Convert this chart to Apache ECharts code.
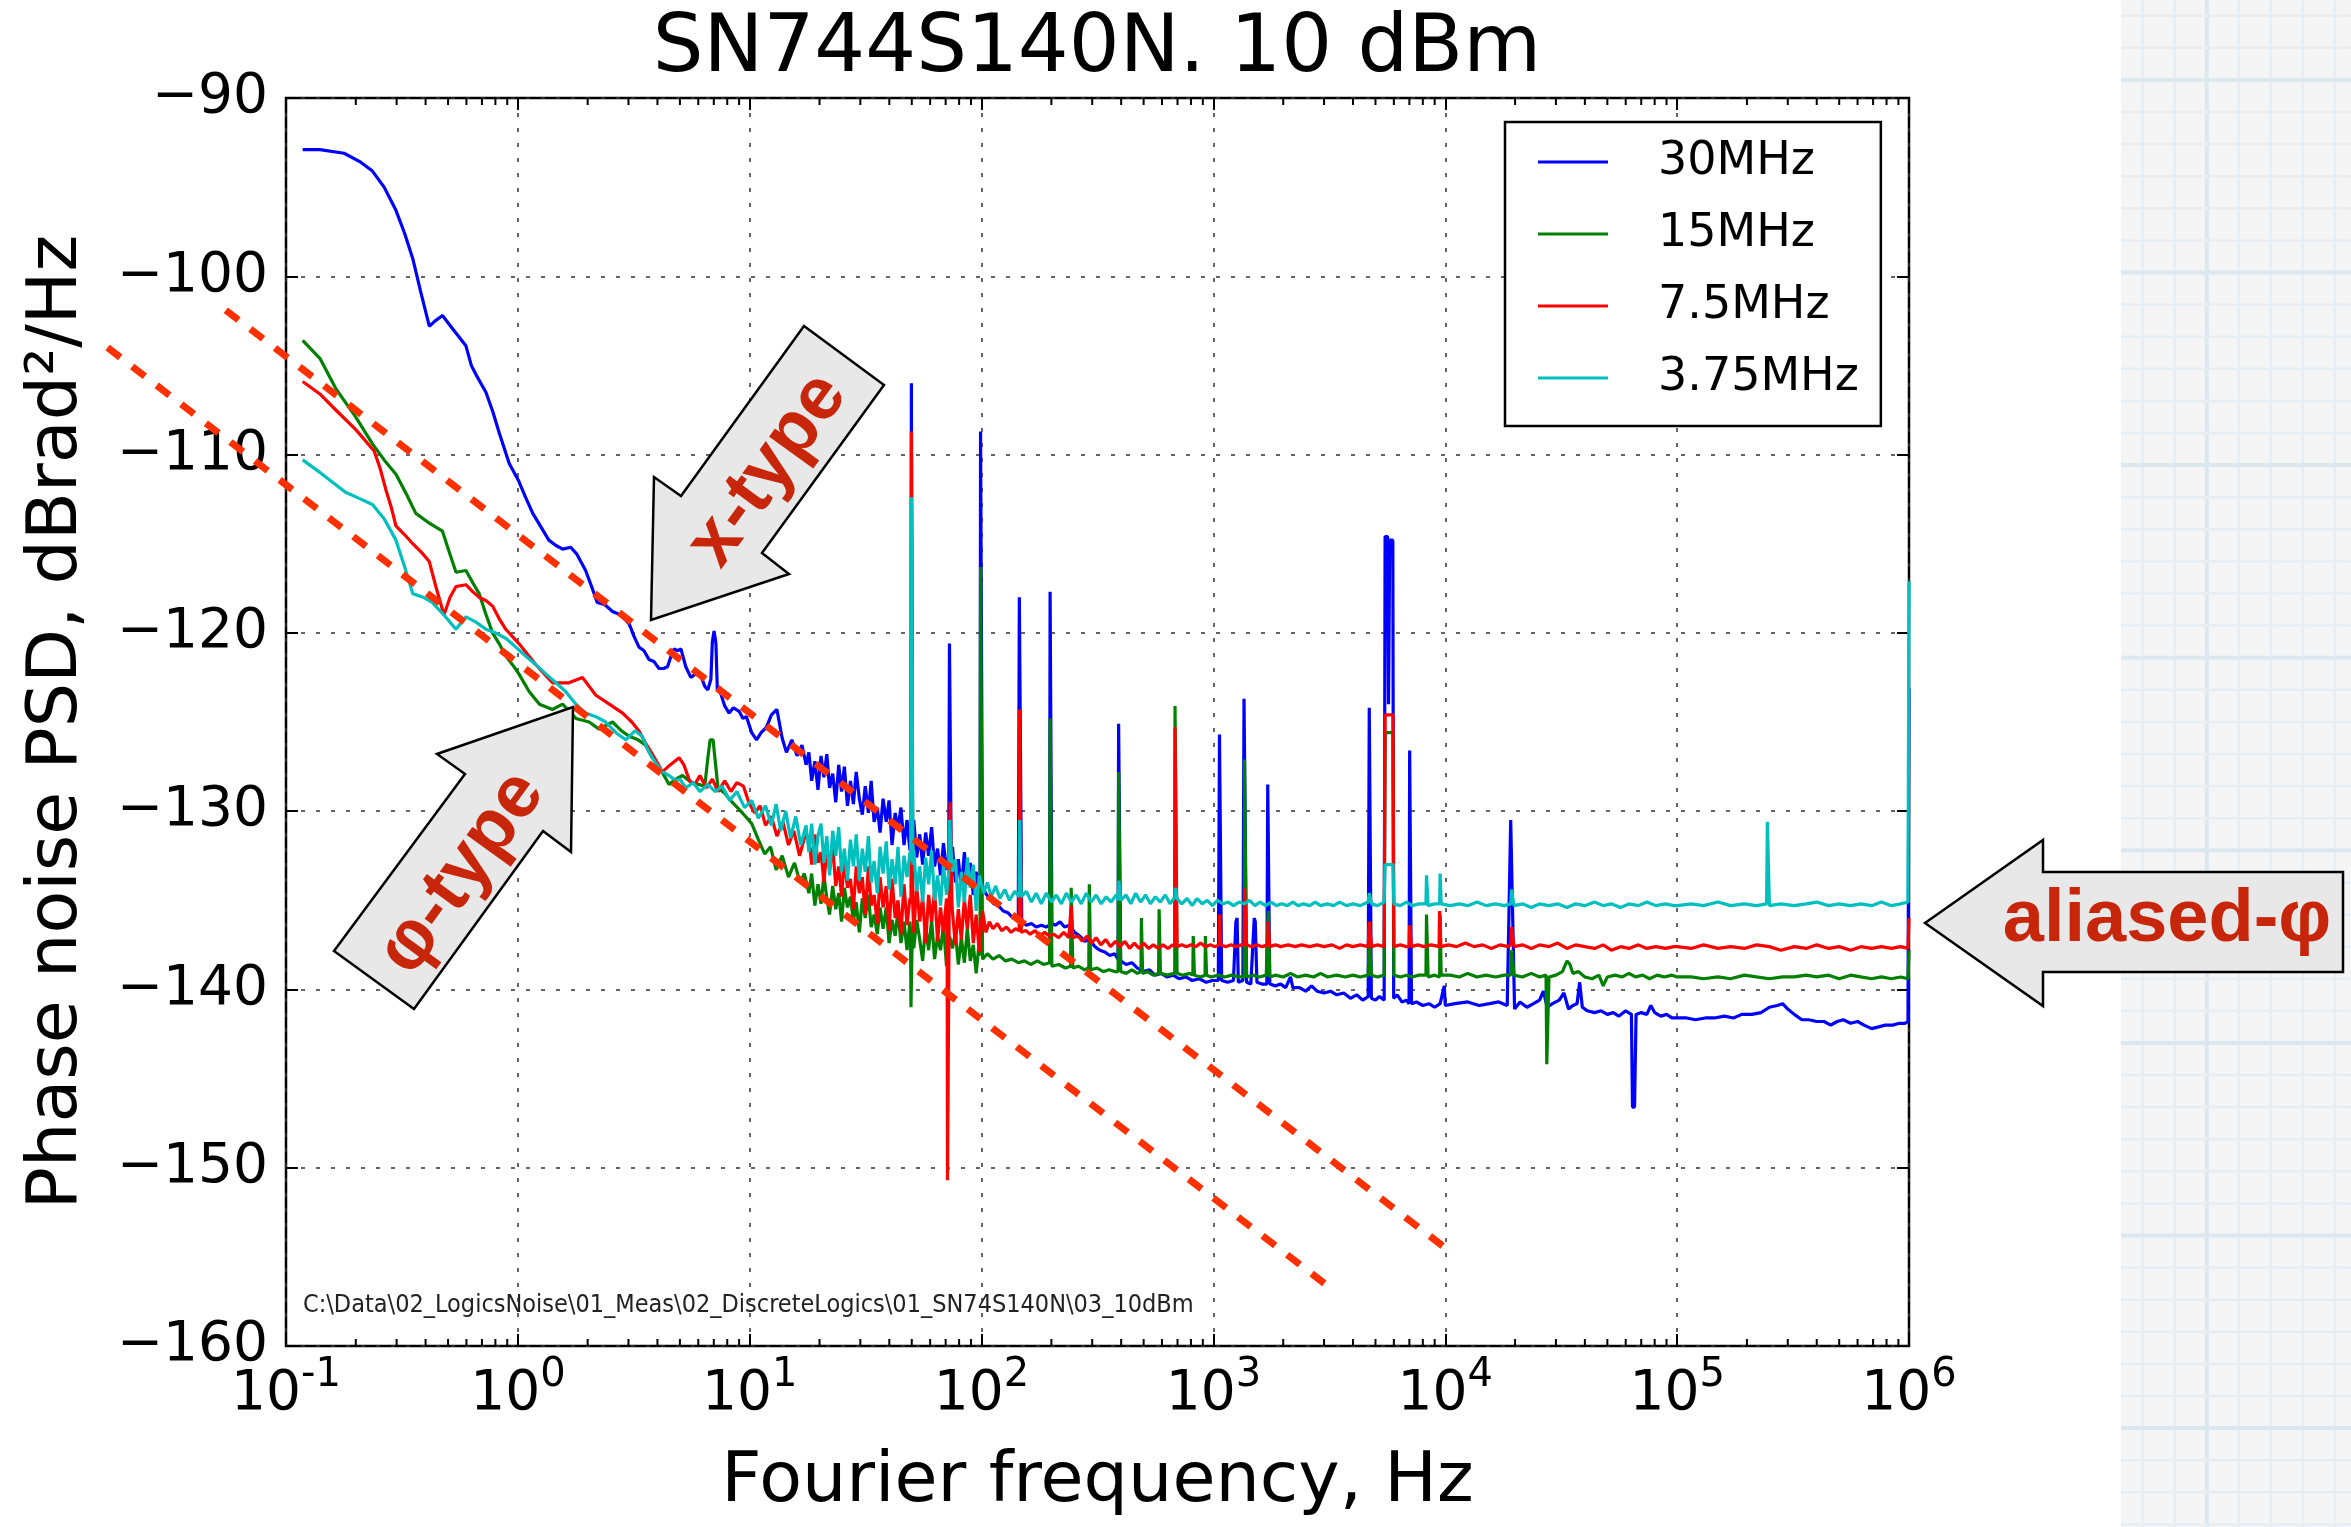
<!DOCTYPE html>
<html>
<head>
<meta charset="utf-8">
<script src="https://cdn.jsdelivr.net/npm/echarts@6/dist/echarts.min.js"></script>
<style>
html,body{margin:0;padding:0;background:#ffffff;}
#chart{width:2351px;height:1527px;}
</style>
</head>
<body>
<div id="chart"></div>
<script>
// ---------------- DATA ----------------
const seriesNames = ['30MHz', '15MHz', '7.5MHz', '3.75MHz'];
const seriesColors = ['#0000ff', '#008000', '#ff0000', '#00bfbf'];

// [Fourier frequency (Hz), PSD (dBrad^2/Hz)]
const psd30MHz = [
[0.118,-92.9],[0.14,-92.9],[0.178,-93.1],[0.21,-93.6],[0.236,-94.1],[0.265,-95.0],[0.298,-96.3],[0.325,-97.6],[0.352,-99.0],[0.38,-100.8],
[0.415,-102.8],[0.44,-102.5],[0.473,-102.2],[0.52,-102.9],[0.597,-103.9],[0.63,-105.0],[0.659,-105.5],[0.728,-106.5],[0.78,-107.6],[0.832,-108.8],
[0.918,-110.5],[1.01,-111.5],[1.08,-112.4],[1.16,-113.3],[1.25,-114.0],[1.36,-114.8],[1.46,-115.1],[1.56,-115.3],[1.69,-115.2],[1.8,-115.6],
[1.96,-116.5],[2.08,-117.4],[2.2,-118.3],[2.36,-118.4],[2.56,-118.8],[2.78,-119.0],[3.02,-119.5],[3.17,-120.2],[3.33,-120.8],[3.5,-121.0],
[3.68,-121.5],[3.86,-121.6],[4.06,-122.0],[4.25,-122.0],[4.42,-121.9],[4.58,-121.3],[4.72,-120.9],[4.9,-121.0],[5.05,-120.9],[5.3,-121.9],
[5.57,-122.5],[5.85,-122.3],[6.15,-122.4],[6.4,-123.0],[6.6,-123.2],[6.8,-122.6],[6.9,-120.5],[7.02,-119.9],[7.15,-120.6],[7.25,-123.2],
[7.5,-123.4],[7.8,-124.1],[8.15,-124.5],[8.5,-124.2],[9.0,-124.4],[9.35,-124.8],[9.68,-124.7],[10.2,-125.6],[10.7,-126.0],[11.2,-125.6],
[11.8,-125.3],[12.4,-124.6],[13.1,-124.3],[13.8,-125.9],[14.4,-126.7],[15.2,-126.0],[16.0,-126.9],[16.8,-126.3],[17.5,-127.4],
[18,-126.7],[18.5,-128.3],[19.1,-127.2],[19.7,-128.8],[20.3,-126.9],[20.9,-128.1],[21.5,-126.8],[22.1,-128.7],[22.8,-127.9],[23.5,-129.5],
[24.2,-127.4],[24.9,-128.9],[25.6,-127.5],[26.4,-129.7],[27.2,-128.3],[28.0,-129.6],[28.8,-127.8],[29.7,-129.3],[30.6,-130.2],[31.5,-128.6],
[32.5,-130.1],[33.4,-128.3],[34.4,-130.6],[35.5,-129.8],[36.5,-131.2],[37.6,-129.3],[38.8,-130.6],[39.9,-129.4],[41.1,-131.9],[42.4,-130.1],
[43.6,-131.0],[44.9,-129.8],[46.3,-131.9],[47.7,-130.5],[49.1,-132.2],[49.6,-131.5],[49.8,-106.0],[50.2,-106.0],[50.4,-131.6],[51.0,-130.5],
[52.5,-132.6],[54.1,-131.3],[55.7,-133.0],[57.4,-131.2],[59.1,-132.5],[60.9,-130.9],[62.7,-133.1],[64.6,-132.1],[66.5,-133.6],[68.5,-131.8],
[70.6,-133.3],[72.2,-132.6],[72.7,-120.6],[73.5,-120.6],[74.0,-132.9],[74.9,-132.0],[77.1,-134.0],[79.4,-132.7],[81.8,-134.4],[84.3,-132.3],
[86.8,-134.1],[89.4,-132.9],[92.1,-134.7],[94.8,-133.4],[97.7,-134.6],[98.5,-134.0],[99.0,-108.7],[100.4,-108.7],[101.0,-134.2],[104,-134.6],
[108,-134.9],[113,-135.2],[118,-135.3],[124,-135.6],[130,-135.7],[137,-136.0],[144,-136.1],[145.5,-118.0],[147.5,-118.0],[149,-136.2],
[156,-136.4],[164,-136.3],[172,-136.5],[181,-136.4],[190,-136.5],[196.5,-136.4],[197.5,-117.7],[200,-117.7],[201,-136.3],[208,-136.4],
[218,-136.2],[228,-136.5],[240,-136.4],[252,-136.8],[265,-137.0],[279,-137.3],[293,-137.2],[308,-137.6],[324,-137.8],[340,-137.9],
[357,-138.1],[375,-138.0],[388,-138.3],[390,-125.1],[396,-125.1],[398,-138.4],[420,-138.6],[445,-138.5],[470,-138.8],[500,-139.0],
[530,-138.9],[560,-139.2],[595,-139.1],[630,-139.3],[670,-139.2],[710,-139.4],[760,-139.3],[810,-139.5],[870,-139.4],[930,-139.6],
[990,-139.5],[1050,-139.5],[1062,-125.7],[1072,-125.7],[1085,-139.5],[1150,-139.6],[1220,-139.5],[1250,-136.2],[1265,-136.0],[1280,-139.6],
[1340,-139.5],[1355,-123.7],[1375,-123.7],[1390,-139.6],[1450,-139.7],[1500,-136.0],[1515,-136.2],[1540,-139.6],[1620,-139.7],[1700,-139.7],
[1715,-128.5],[1735,-128.5],[1750,-139.7],[1850,-139.8],[1950,-139.7],[2050,-139.9],[2150,-139.3],[2200,-139.9],[2350,-139.9],[2500,-140.1],
[2650,-139.8],[2800,-140.1],[3000,-140.2],[3200,-140.1],[3400,-140.3],[3650,-140.2],[3900,-140.5],[4150,-140.3],[4400,-140.6],[4650,-140.4],
[4700,-124.2],[4760,-124.2],[4800,-140.5],[5000,-140.6],[5200,-140.4],[5450,-140.6],[5500,-114.6],[5640,-114.6],[5690,-124.0],[5760,-114.8],
[5940,-114.8],[5990,-140.5],[6200,-140.3],[6500,-140.7],[6800,-140.6],[6980,-140.8],[7020,-126.6],[7100,-126.6],[7150,-140.8],[7500,-140.7],
[8000,-140.9],[8500,-140.8],[9000,-141.0],[9500,-140.8],[9900,-139.8],[10000,-140.9],[11000,-140.8],[12500,-140.7],[14000,-140.9],[15500,-140.8],
[17000,-140.7],[18500,-140.9],[19150,-130.5],[19500,-130.5],[19900,-141.1],[21000,-140.7],[22500,-141.0],[24000,-140.8],[25500,-140.6],[26500,-140.1],
[27500,-141.0],[29000,-140.8],[31000,-140.6],[32500,-140.2],[34000,-141.1],[35500,-140.9],[37000,-140.8],[38000,-139.6],[39000,-141.0],[41000,-141.2],
[44000,-141.3],[47000,-141.2],[50000,-141.4],[53000,-141.3],[56000,-141.5],[60000,-141.2],[63500,-141.4],[64200,-146.6],[65500,-146.6],[66500,-141.4],
[70000,-141.3],[74000,-141.4],[77000,-140.9],[80000,-141.3],[85000,-141.5],[90000,-141.4],[95000,-141.6],[100000,-141.6],[110000,-141.6],[120000,-141.7],
[132000,-141.6],[145000,-141.6],[160000,-141.5],[175000,-141.6],[190000,-141.4],[210000,-141.4],[230000,-141.3],[250000,-141.0],[270000,-140.9],[285000,-140.8],
[300000,-141.1],[320000,-141.4],[345000,-141.7],[370000,-141.7],[400000,-141.8],[430000,-141.8],[460000,-142.0],[490000,-141.8],[520000,-141.7],[560000,-141.9],
[600000,-141.8],[640000,-142.0],[690000,-142.2],[740000,-142.1],[790000,-142.0],[850000,-142.0],[910000,-141.9],[960000,-141.9],[990000,-141.8],[1000000,-123.1]
];

const psd15MHz = [
[0.118,-103.6],[0.14,-104.6],[0.164,-106.3],[0.2,-107.9],[0.236,-109.4],[0.265,-110.3],[0.298,-111.1],[0.33,-112.2],[0.363,-113.3],[0.41,-113.8],
[0.473,-114.3],[0.51,-115.6],[0.541,-116.6],[0.597,-116.5],[0.64,-117.2],[0.681,-117.8],[0.73,-119.0],[0.778,-120.0],[0.83,-120.6],[0.887,-121.3],
[0.95,-121.8],[1.01,-122.3],[1.12,-123.3],[1.24,-124.0],[1.41,-124.3],[1.56,-124.0],[1.78,-124.8],[2.03,-125.0],[2.24,-125.4],[2.56,-125.0],
[2.8,-125.5],[3.02,-125.8],[3.3,-126.0],[3.56,-126.3],[3.8,-127.0],[4.06,-127.5],[4.49,-128.5],[4.8,-128.2],[5.13,-128.0],[5.6,-128.4],
[6.0,-128.5],[6.4,-128.6],[6.6,-127.0],[6.75,-126.0],[6.95,-126.0],[7.1,-127.2],[7.3,-128.7],[7.8,-129.0],[8.4,-129.5],[9.0,-129.9],
[9.6,-130.3],[10.2,-130.7],[10.9,-131.6],[11.6,-132.4],[12.3,-132.0],[13.0,-133.3],[13.8,-132.5],[14.7,-133.7],[15.6,-132.9],[16.5,-134.0],
[17.2,-133.5],[18,-134.6],[18.5,-133.5],[19.1,-135.3],[19.7,-134.1],[20.3,-135.2],[20.9,-133.6],[21.5,-134.9],[22.1,-135.8],[22.8,-134.2],
[23.5,-135.5],[24.2,-134.6],[24.9,-136.2],[25.6,-134.3],[26.4,-135.4],[27.2,-134.8],[28.0,-136.2],[28.8,-135.1],[29.7,-136.8],[30.6,-134.9],
[31.5,-136.0],[32.5,-134.7],[33.4,-136.5],[34.4,-135.8],[35.5,-136.9],[36.5,-135.4],[37.6,-136.6],[38.8,-135.4],[39.9,-137.4],[41.1,-136.1],
[42.4,-137.0],[43.6,-135.6],[44.9,-137.4],[46.3,-136.2],[47.7,-137.8],[49.1,-136.2],[49.4,-136.8],[49.6,-141.0],[50.0,-141.0],[50.3,-136.5],
[51.0,-137.7],[52.5,-136.1],[54.1,-137.2],[55.7,-138.4],[57.4,-136.4],[59.1,-137.8],[60.9,-136.1],[62.7,-138.3],[64.6,-137.0],[66.5,-137.8],
[68.5,-136.4],[70.6,-138.7],[72.7,-137.0],[74.9,-137.7],[77.1,-136.8],[79.4,-138.6],[81.8,-137.1],[84.3,-138.5],[86.8,-136.6],[89.4,-138.4],
[92.1,-137.5],[94.8,-139.1],[97.7,-137.3],[98.5,-138.1],
[99.0,-116.3],[100.4,-116.3],[101.0,-138.3],[106,-138.0],[112,-138.3],[119,-138.1],[127,-138.4],[135,-138.3],[144,-138.5],[153,-138.4],
[163,-138.6],[174,-138.4],[185,-138.6],[196.5,-138.5],[197.5,-124.8],[200,-124.8],[201,-138.7],[215,-138.6],[230,-138.8],[242,-138.7],
[243.5,-134.3],[246,-134.3],[247.5,-138.8],[262,-138.7],[278,-138.9],[290,-138.8],[291.5,-134.1],[294,-134.1],[295.5,-138.9],[315,-138.8],
[335,-139.0],[355,-138.9],[375,-139.0],[388,-139.0],[390,-127.8],[396,-127.8],[398,-139.0],[420,-139.1],[445,-138.9],[470,-139.1],
[487,-139.0],[489,-136.0],[493,-136.0],[495,-139.1],[520,-139.0],[550,-139.2],[580,-139.1],[583,-135.5],[588,-135.5],[591,-139.1],
[630,-139.2],[681,-139.1],[683,-124.1],[695,-124.1],[697,-139.1],[740,-139.2],[790,-139.1],[815,-139.2],[818,-137.0],[824,-137.0],
[828,-139.2],[880,-139.3],[920,-139.2],[923,-137.0],[930,-137.0],[934,-139.2],[980,-139.3],[1050,-139.2],[1120,-139.3],[1200,-139.2],
[1290,-139.3],[1358,-139.3],[1362,-127.1],[1385,-127.1],[1390,-139.3],[1480,-139.2],[1580,-139.3],[1690,-139.2],[1720,-139.3],[1725,-135.6],
[1745,-135.6],[1750,-139.3],[1850,-139.2],[2000,-139.3],[2150,-139.1],[2300,-139.3],[2500,-139.2],[2700,-139.3],[2900,-139.1],[3100,-139.3],
[3400,-139.2],[3700,-139.3],[4000,-139.2],[4300,-139.3],[4650,-139.2],[4700,-137.0],[4760,-137.0],[4810,-139.2],[5100,-139.3],[5450,-139.2],
[5500,-125.6],[5950,-125.6],[6000,-139.2],[6400,-139.3],[6800,-139.2],[7200,-139.3],[7700,-139.2],[8250,-139.2],[8300,-135.8],[8380,-135.8],
[8430,-139.3],[9000,-139.2],[9450,-139.3],[9500,-135.8],[9560,-135.8],[9600,-139.2],[10500,-139.2],[11500,-139.3],[12500,-139.1],[13700,-139.3],
[15000,-139.2],[16500,-139.3],[18000,-139.2],[19150,-139.2],[19300,-137.8],[19650,-137.8],[19800,-139.2],[21500,-139.3],[23500,-139.1],[25500,-139.3],
[27200,-139.2],[27400,-144.2],[27800,-144.2],[28000,-139.3],[30000,-139.2],[32000,-139.0],[33500,-138.4],[34500,-138.6],[35500,-139.1],[37500,-139.0],
[40000,-139.3],[43000,-139.4],[46000,-139.2],[48000,-139.8],[50000,-139.3],[54000,-139.2],[58000,-139.3],[62000,-139.1],[66000,-139.3],[71000,-139.2],
[76000,-139.4],[82000,-139.2],[88000,-139.3],[95000,-139.2],[100000,-139.3],[115000,-139.3],[130000,-139.4],[150000,-139.3],[170000,-139.4],[195000,-139.2],
[220000,-139.3],[250000,-139.4],[285000,-139.3],[320000,-139.3],[360000,-139.2],[400000,-139.3],[450000,-139.2],[500000,-139.4],[560000,-139.2],[620000,-139.3],
[690000,-139.4],[760000,-139.3],[840000,-139.4],[920000,-139.3],[990000,-139.4],[1000000,-137.8]
];

const psd7_5MHz = [
[0.118,-105.9],[0.14,-106.6],[0.164,-107.5],[0.2,-108.6],[0.24,-109.8],[0.255,-110.8],[0.27,-112.0],[0.285,-113.0],[0.298,-114.0],[0.325,-114.5],
[0.352,-115.0],[0.385,-115.5],[0.415,-116.0],[0.445,-117.5],[0.48,-119.0],[0.51,-118.0],[0.541,-117.4],[0.597,-117.3],[0.64,-117.7],[0.681,-118.0],
[0.73,-118.2],[0.778,-118.5],[0.83,-119.2],[0.887,-119.8],[1.01,-120.6],[1.1,-121.2],[1.2,-121.8],[1.3,-122.3],[1.41,-122.8],[1.66,-122.8],
[1.9,-122.5],[2.03,-123.0],[2.17,-123.5],[2.48,-124.0],[2.83,-124.5],[3.1,-125.0],[3.33,-125.5],[3.56,-126.2],[3.8,-126.8],[4.0,-127.3],
[4.2,-127.8],[4.45,-127.5],[4.65,-127.3],[4.96,-127.0],[5.2,-127.4],[5.5,-128.3],[5.8,-128.5],[6.1,-128.0],[6.5,-128.7],[6.9,-128.2],
[7.3,-128.9],[7.8,-128.3],[8.3,-128.9],[8.8,-128.4],[9.4,-128.6],[9.9,-129.5],[10.5,-130.1],[11.1,-129.7],[11.7,-130.8],[12.4,-130.3],
[13.1,-131.4],[13.9,-130.6],[14.7,-131.9],[15.5,-131.1],[16.4,-132.5],[17.4,-131.3],
[18,-131.5],[18.5,-133.0],[19.1,-131.3],[19.7,-132.9],[20.3,-132.3],[20.9,-134.0],[21.5,-132.1],[22.1,-133.3],[22.8,-132.0],[23.5,-134.2],
[24.2,-133.1],[24.9,-134.8],[25.6,-132.7],[26.4,-134.3],[27.2,-133.8],[28.0,-135.5],[28.8,-133.1],[29.7,-134.6],[30.6,-133.7],[31.5,-135.8],
[32.5,-133.1],[33.4,-135.3],[34.4,-134.7],[35.5,-136.3],[36.5,-133.7],[37.6,-135.4],[38.8,-134.2],[39.9,-136.7],[41.1,-133.8],[42.4,-136.0],
[43.6,-135.0],[44.9,-136.9],[46.3,-134.1],[47.7,-136.4],[49.1,-134.9],[49.6,-135.2],[49.8,-108.7],[50.2,-108.7],[50.5,-135.3],[51.0,-136.8],
[52.5,-134.2],[54.1,-136.2],[55.7,-134.8],[57.4,-137.4],[59.1,-134.7],[60.9,-136.2],[62.7,-134.4],[64.6,-137.3],[66.5,-135.4],[68.5,-136.8],
[70.6,-134.9],[71.0,-135.5],[71.3,-150.7],[72.1,-150.7],[72.5,-135.6],[73.2,-129.5],[74.2,-129.5],[74.6,-135.4],[77.1,-137.5],[79.4,-135.5],
[81.8,-137.2],[84.3,-134.9],[86.8,-136.6],[89.4,-134.7],[92.1,-137.4],[94.8,-135.8],[97.7,-137.9],
[101,-135.6],[104.5,-136.8],[108,-136.2],[112,-136.6],[117,-136.3],[122,-136.7],[128,-136.5],[134,-136.8],[140,-136.6],[145.3,-136.7],
[145.8,-124.3],[147.8,-124.3],[148.3,-136.8],[155,-136.7],[162,-136.9],[170,-136.7],[178,-137.0],[187,-136.8],[196,-137.0],[205,-136.9],
[215,-137.1],[226,-136.8],[238,-137.1],[242,-137.0],[243.5,-135.3],[246,-135.3],[247.5,-137.1],[260,-137.0],[272,-137.3],[285,-137.0],
[298,-137.4],[312,-137.1],[327,-137.5],[343,-137.2],[360,-137.6],[378,-137.3],[395,-137.6],[415,-137.3],[435,-137.7],[456,-137.4],
[478,-137.7],[500,-137.4],[525,-137.7],[550,-137.5],[578,-137.7],[606,-137.5],[636,-137.7],[667,-137.5],[681,-137.6],[683,-125.3],
[695,-125.3],[697,-137.6],[730,-137.5],[765,-137.6],[800,-137.5],[840,-137.6],[880,-137.4],[925,-137.6],[970,-137.5],[1015,-137.6],
[1060,-137.5],[1062,-135.8],[1072,-135.8],[1075,-137.5],[1130,-137.6],[1190,-137.5],[1250,-137.6],[1320,-137.5],[1358,-137.5],[1362,-134.3],
[1385,-134.3],[1390,-137.5],[1460,-137.6],[1540,-137.5],[1620,-137.6],[1715,-137.5],[1720,-136.2],[1745,-136.2],[1750,-137.6],[1850,-137.5],
[1950,-137.6],[2100,-137.5],[2250,-137.6],[2400,-137.5],[2600,-137.6],[2800,-137.5],[3000,-137.6],[3250,-137.5],[3500,-137.7],[3750,-137.5],
[4000,-137.6],[4300,-137.5],[4650,-137.6],[4700,-136.2],[4760,-136.2],[4810,-137.6],[5100,-137.5],[5450,-137.6],[5500,-124.6],[5950,-124.6],
[6000,-137.6],[6400,-137.5],[6800,-137.6],[6980,-137.6],[7020,-136.4],[7100,-136.4],[7150,-137.6],[7600,-137.5],[8100,-137.6],[8700,-137.5],
[9400,-137.6],[9450,-135.6],[9520,-135.6],[9570,-137.6],[10300,-137.5],[11200,-137.6],[12200,-137.4],[13300,-137.6],[14500,-137.5],[15800,-137.7],
[17200,-137.5],[18700,-137.6],[19150,-137.5],[19300,-136.5],[19650,-136.5],[19800,-137.6],[21500,-137.5],[23500,-137.7],[25500,-137.5],[28000,-137.6],
[30500,-137.4],[33500,-137.7],[36500,-137.5],[40000,-137.6],[44000,-137.7],[48000,-137.5],[52000,-137.8],[57000,-137.6],[62000,-137.7],[68000,-137.5],
[74000,-137.7],[81000,-137.6],[89000,-137.7],[97000,-137.6],[100000,-137.6],[115000,-137.7],[130000,-137.5],[150000,-137.7],[170000,-137.6],[195000,-137.7],
[220000,-137.5],[250000,-137.6],[280000,-137.8],[320000,-137.6],[360000,-137.7],[400000,-137.5],[450000,-137.7],[500000,-137.6],[560000,-137.8],[620000,-137.6],
[690000,-137.7],[760000,-137.6],[840000,-137.7],[920000,-137.6],[990000,-137.7],[1000000,-136.0]
];

const psd3_75MHz = [
[0.118,-110.3],[0.14,-111.0],[0.18,-112.1],[0.21,-112.5],[0.236,-112.8],[0.265,-113.6],[0.298,-114.8],[0.325,-116.3],[0.352,-117.8],[0.39,-118.0],
[0.428,-118.3],[0.48,-119.0],[0.541,-119.8],[0.597,-119.1],[0.66,-119.4],[0.728,-119.8],[0.8,-120.0],[0.887,-120.3],[0.98,-120.8],[1.08,-121.3],
[1.2,-121.8],[1.32,-122.3],[1.46,-122.8],[1.61,-123.3],[1.78,-124.0],[1.96,-124.5],[2.17,-124.7],[2.39,-125.0],[2.65,-125.6],[2.92,-126.0],
[3.2,-125.5],[3.44,-125.8],[3.65,-126.6],[3.93,-127.3],[4.2,-127.8],[4.49,-128.0],[4.8,-128.3],[5.0,-128.2],[5.3,-128.7],[5.7,-128.4],
[6.1,-128.9],[6.6,-128.5],[7.1,-128.9],[7.6,-128.6],[8.2,-129.4],[8.8,-128.9],[9.5,-129.8],[10.2,-129.4],[10.9,-130.4],[11.7,-129.7],
[12.4,-130.8],[13.0,-129.6],[13.6,-131.1],[14.3,-130.0],[15.0,-131.5],[15.8,-130.3],[16.6,-131.9],[17.5,-130.8],
[18,-132.3],[18.5,-130.7],[19.1,-133.0],[19.7,-131.4],[20.3,-130.7],[20.9,-132.9],[21.5,-131.4],[22.1,-133.6],[22.8,-131.1],[23.5,-132.5],
[24.2,-130.9],[24.9,-133.4],[25.6,-132.1],[26.4,-133.9],[27.2,-131.6],[28.0,-133.1],[28.8,-131.3],[29.7,-133.9],[30.6,-132.1],[31.5,-133.4],
[32.5,-131.4],[33.4,-134.0],[34.4,-132.8],[35.5,-134.6],[36.5,-132.0],[37.6,-133.5],[38.8,-131.7],[39.9,-134.4],[41.1,-132.7],[42.4,-134.1],
[43.6,-132.0],[44.9,-134.8],[46.3,-132.5],[47.7,-133.7],[49.1,-132.3],[49.4,-132.8],[49.8,-112.4],[50.2,-112.4],[50.6,-133.0],[51.0,-132.2],
[52.5,-134.5],[54.1,-133.1],[55.7,-135.1],[57.4,-132.6],[59.1,-134.1],[60.9,-132.2],[62.7,-135.0],[64.6,-133.6],[66.5,-135.3],[68.5,-133.0],
[70.6,-134.7],[72.0,-133.6],[72.8,-130.5],[74.0,-130.5],[74.8,-133.4],[77.1,-132.7],[79.4,-135.4],[81.8,-133.4],[84.3,-135.1],[86.8,-132.6],
[89.4,-134.3],[92.1,-133.0],[94.8,-135.6],[97.7,-133.6],
[102,-134.6],[106,-134.0],[110,-134.8],[115,-134.2],[120,-134.9],[126,-134.4],[132,-135.0],[139,-134.5],[145.3,-134.8],[145.8,-130.5],[147.8,-130.5],
[148.3,-134.8],[156,-134.5],[164,-135.1],[172,-134.6],[181,-135.2],[190,-134.6],[200,-135.1],[210,-134.7],[221,-135.2],[232,-134.6],
[244,-135.1],[256,-134.7],[269,-135.2],[283,-134.6],[297,-135.1],[312,-134.7],[328,-135.2],[345,-134.8],[362,-135.1],[380,-134.7],
[389,-135.0],[391,-133.9],[396,-133.9],[398,-135.0],[420,-134.7],[440,-135.2],[462,-134.6],[485,-135.1],[510,-134.7],[535,-135.2],
[562,-134.8],[590,-135.1],[620,-134.7],[650,-135.2],[683,-134.8],[686,-134.3],[694,-134.3],[697,-134.9],[730,-135.2],[770,-134.9],
[810,-135.3],[850,-134.9],[895,-135.2],[940,-135.0],[990,-135.3],[1040,-135.0],[1100,-135.2],[1160,-135.1],[1220,-135.3],[1290,-135.1],
[1360,-135.2],[1430,-135.0],[1510,-135.3],[1590,-135.1],[1680,-135.3],[1770,-135.1],[1870,-135.3],[1970,-135.2],[2080,-135.3],[2200,-135.1],
[2320,-135.3],[2450,-135.2],[2600,-135.3],[2750,-135.1],[2900,-135.3],[3100,-135.2],[3300,-135.3],[3500,-135.1],[3750,-135.3],[4000,-135.2],
[4300,-135.3],[4650,-135.1],[4700,-134.6],[4760,-134.6],[4810,-135.2],[5100,-135.3],[5450,-135.1],[5500,-133.0],[5950,-133.0],[6000,-135.2],
[6400,-135.3],[6800,-135.1],[7200,-135.3],[7700,-135.2],[8250,-135.2],[8300,-133.6],[8380,-133.6],[8430,-135.3],[9000,-135.2],[9450,-135.2],
[9500,-133.5],[9560,-133.5],[9600,-135.2],[10500,-135.3],[11500,-135.2],[12500,-135.3],[13700,-135.1],[15000,-135.3],[16500,-135.2],[18000,-135.3],
[19150,-135.2],[19300,-134.4],[19650,-134.4],[19800,-135.3],[21500,-135.2],[23500,-135.4],[25500,-135.2],[28000,-135.3],[30500,-135.2],[33500,-135.4],
[36500,-135.2],[40000,-135.3],[44000,-135.1],[48000,-135.3],[52000,-135.2],[57000,-135.4],[62000,-135.2],[68000,-135.3],[74000,-135.1],[81000,-135.3],
[89000,-135.2],[97000,-135.3],[100000,-135.3],[115000,-135.2],[130000,-135.3],[150000,-135.1],[170000,-135.3],[195000,-135.2],[220000,-135.3],[243000,-135.2],
[245000,-130.6],[248000,-130.6],[250000,-135.3],[280000,-135.2],[320000,-135.3],[360000,-135.2],[400000,-135.1],[450000,-135.3],[500000,-135.2],[560000,-135.3],
[620000,-135.2],[690000,-135.3],[760000,-135.1],[840000,-135.3],[920000,-135.2],[990000,-135.1],[1000000,-117.1]
];

// 1/f (-10 dB/decade) guide lines: [frequency, level] end points
const xTypeSlope = [[0.055, -101.9], [10000, -154.5]];
const phiTypeSlope = [[0.017, -104.0], [3160, -156.7]];

// axis ticks
const yTickValues = [-160, -150, -140, -130, -120, -110, -100, -90];
const xDecadeExponents = [-1, 0, 1, 2, 3, 4, 5, 6];
const minorMantissas = [2, 3, 4, 5, 6, 7, 8, 9];

// texts
const titleText = 'SN744S140N. 10 dBm';
const xAxisTitle = 'Fourier frequency, Hz';
const yAxisTitle = 'Phase noise PSD, dBrad\u00B2/Hz';
const pathText = 'C:\\Data\\02_LogicsNoise\\01_Meas\\02_DiscreteLogics\\01_SN74S140N\\03_10dBm';

// ---------------- CHART ----------------
const FONT = 'DejaVu Sans';
const minorTicks = [];
xDecadeExponents.slice(0, -1).forEach(e => minorMantissas.forEach(m => minorTicks.push([m * Math.pow(10, e), -125])));

const chart = echarts.init(document.getElementById('chart'), null, {renderer: 'canvas', width: 2351, height: 1527});

const lineSeries = [psd30MHz, psd15MHz, psd7_5MHz, psd3_75MHz].map((d, i) => ({
  name: seriesNames[i], type: 'line', data: d, symbol: 'none', showSymbol: false,
  lineStyle: {color: seriesColors[i], width: 3.2}, itemStyle: {color: seriesColors[i]},
  emphasis: {disabled: true}, z: 2, xAxisIndex: 0, yAxisIndex: 0
}));

// dashed guide lines: positions come from the axis scale (extrapolated in log space beyond the axis range)
function makeSlopeSeries(points, name) {
  return {
    type: 'custom', name: name, data: [points[0]], silent: true, clip: false, z: 3,
    encode: {x: 0, y: 1},
    renderItem: function (params, api) {
      const a = api.coord([1, -100]);
      const b = api.coord([1000, -100]);
      const pxPerDecade = (b[0] - a[0]) / 3;
      const pts = points.map(p => [a[0] + Math.log10(p[0]) * pxPerDecade, api.coord([1, p[1]])[1]]);
      return {type: 'polyline', shape: {points: pts},
        style: {stroke: '#ff3000', lineWidth: 7, lineDash: [16, 15], fill: null, lineCap: 'butt'}};
    }
  };
}

const minorTickSeries = {
  type: 'custom', data: minorTicks, silent: true, z: 4, clip: false,
  encode: {x: 0, y: 1},
  renderItem: function (params, api) {
    const b = api.coord([api.value(0), -160]);
    const t = api.coord([api.value(0), -90]);
    return {type: 'group', children: [
      {type: 'line', shape: {x1: b[0], y1: b[1], x2: b[0], y2: b[1] - 7}, style: {stroke: '#000', lineWidth: 2}},
      {type: 'line', shape: {x1: t[0], y1: t[1], x2: t[0], y2: t[1] + 7}, style: {stroke: '#000', lineWidth: 2}}
    ]};
  }
};

// graphic annotations
const arrowStyle = {fill: '#e8e8e8', stroke: '#000', lineWidth: 2.5};
const annoFont = 'bold 74px "Liberation Sans", Arial, sans-serif';
const annoColor = '#c8260a';
const graphics = [];
graphics.push({type: 'rect', shape: {x: 2121, y: 0, width: 230, height: 1527}, style: {fill: '#f5f5f5'}, z: -10, silent: true});
for (let k = 0; k < 7; k++) {
  const x = 2142.7 + 32.05 * k;
  graphics.push({type: 'line', shape: {x1: x, y1: 0, x2: x, y2: 1527}, style: {stroke: k === 2 ? '#dce8f0' : '#e6eef4', lineWidth: k === 2 ? 4 : 2.5}, z: -9, silent: true});
}
for (let k = 0; k < 48; k++) {
  const y = 15.7 + 32.1 * k;
  graphics.push({type: 'line', shape: {x1: 2121, y1: y, x2: 2351, y2: y}, style: {stroke: k % 6 === 2 ? '#dce8f0' : '#e6eef4', lineWidth: k % 6 === 2 ? 4 : 2.5}, z: -9, silent: true});
}
graphics.push({type: 'polygon', shape: {points: [[651,620],[654,477],[681,496],[804,326],[884,385],[762,553],[789,574]]}, style: arrowStyle, z: 100});
graphics.push({type: 'polygon', shape: {points: [[573,707],[571,852],[543,831],[414,1009],[334,951],[465,774],[437,754]]}, style: arrowStyle, z: 100});
graphics.push({type: 'polygon', shape: {points: [[1925,923],[2043,840],[2043,872],[2343,872],[2343,972],[2043,972],[2043,1006]]}, style: arrowStyle, z: 100});
graphics.push({type: 'text', x: 768, y: 470, rotation: 54 * Math.PI / 180, style: {text: 'x-type', font: annoFont, fill: annoColor, textAlign: 'center', textVerticalAlign: 'middle'}, z: 101});
graphics.push({type: 'text', x: 462, y: 873, rotation: 54 * Math.PI / 180, style: {text: '\u03C6-type', font: annoFont, fill: annoColor, textAlign: 'center', textVerticalAlign: 'middle'}, z: 101});
graphics.push({type: 'text', x: 2167, y: 921, style: {text: 'aliased-\u03C6', font: annoFont, fill: annoColor, textAlign: 'center', textVerticalAlign: 'middle'}, z: 101});
graphics.push({type: 'text', x: 303, y: 1305, style: {text: pathText, font: '25px "DejaVu Sans Condensed", "DejaVu Sans"', fill: '#222', textAlign: 'left', textVerticalAlign: 'middle'}, z: 50});

const tickStyle = {color: '#000', width: 2};
const gridLineStyle = {color: '#333', width: 1.5, type: [4, 11]};

const option = {
  animation: false,
  backgroundColor: '#ffffff',
  title: {
    text: titleText, left: 1097, top: 10, textAlign: 'center', padding: 0,
    textStyle: {fontSize: 80, fontWeight: 'normal', fontFamily: FONT, color: '#000', lineHeight: 80}
  },
  legend: {
    data: seriesNames, orient: 'vertical', left: 1505, top: 122,
    padding: [17, 22, 25, 33], itemGap: 26, itemWidth: 70, itemHeight: 3, icon: 'rect',
    borderColor: '#000', borderWidth: 2.5, borderRadius: 0, backgroundColor: '#fff',
    selectedMode: false,
    formatter: name => '{n|' + name + '}',
    textStyle: {fontSize: 46, fontFamily: FONT, color: '#000', lineHeight: 46,
      rich: {n: {fontSize: 46, fontFamily: FONT, color: '#000', lineHeight: 46, padding: [0, 0, 0, 45]}}}
  },
  grid: {left: 286, right: 442, top: 98, bottom: 181, show: true, borderColor: '#000', borderWidth: 2.5, backgroundColor: 'rgba(0,0,0,0)', containLabel: false},
  xAxis: [
    {
      type: 'log', logBase: 10, min: 0.1, max: 1e6, position: 'bottom',
      axisLine: {show: false},
      axisTick: {show: true, inside: true, length: 12, lineStyle: tickStyle},
      axisLabel: {
        margin: 10, showMinLabel: true, showMaxLabel: true,
        formatter: v => '{b|10}{s|' + Math.round(Math.log10(v)) + '}',
        rich: {
          b: {fontSize: 55, fontFamily: FONT, color: '#000', lineHeight: 60, padding: [17, 0, 0, 0]},
          s: {fontSize: 40, fontFamily: FONT, color: '#000', lineHeight: 40, verticalAlign: 'top'}
        }
      },
      splitLine: {show: true, lineStyle: gridLineStyle},
      name: xAxisTitle, nameLocation: 'middle', nameGap: 102,
      nameTextStyle: {fontSize: 70, fontFamily: FONT, color: '#000', lineHeight: 70}
    },
    {
      type: 'log', logBase: 10, min: 0.1, max: 1e6, position: 'top',
      axisLine: {show: false}, axisTick: {show: true, inside: true, length: 12, lineStyle: tickStyle},
      axisLabel: {show: false}, splitLine: {show: false}
    }
  ],
  yAxis: [
    {
      type: 'value', min: -160, max: -90, interval: 10, position: 'left',
      axisLine: {show: false},
      axisTick: {show: true, inside: true, length: 12, lineStyle: tickStyle},
      axisLabel: {fontSize: 55, fontFamily: FONT, color: '#000', margin: 18,
        formatter: v => yTickValues.indexOf(v) >= 0 ? String(v).replace('-', '\u2212') : ''},
      splitLine: {show: true, lineStyle: gridLineStyle},
      name: yAxisTitle, nameLocation: 'middle', nameRotate: 90, nameGap: 193,
      nameTextStyle: {fontSize: 70, fontFamily: FONT, color: '#000', lineHeight: 70}
    },
    {
      type: 'value', min: -160, max: -90, interval: 10, position: 'right',
      axisLine: {show: false}, axisTick: {show: true, inside: true, length: 12, lineStyle: tickStyle},
      axisLabel: {show: false}, splitLine: {show: false}
    }
  ],
  graphic: {elements: graphics},
  series: lineSeries.concat([makeSlopeSeries(xTypeSlope, 'x-type slope'), makeSlopeSeries(phiTypeSlope, 'phi-type slope'), minorTickSeries])
};
chart.setOption(option);
</script>
</body>
</html>
